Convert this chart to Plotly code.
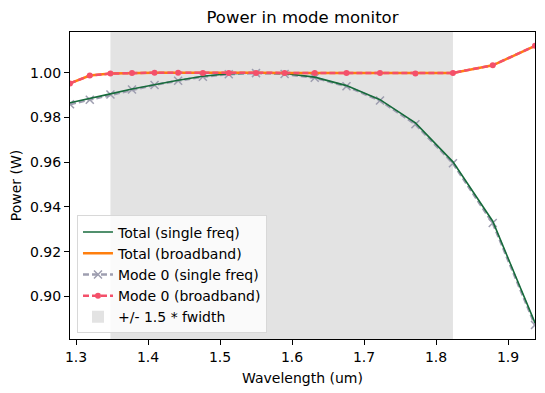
import plotly.graph_objects as go

wavelength = [1.29167, 1.31915, 1.34783, 1.37778, 1.40909, 1.44186, 1.47619, 1.51220, 1.55000,
              1.58974, 1.63158, 1.67568, 1.72222, 1.77143, 1.82353, 1.87879, 1.93750]
total_single = [0.9866, 0.9884, 0.9906, 0.9928, 0.9948, 0.9967, 0.9985, 0.9996, 1.0000,
                0.9997, 0.9981, 0.9943, 0.9880, 0.9776, 0.9602, 0.9336, 0.8881]
total_broad = [0.9953, 0.9988, 0.9997, 1.0000, 1.0001, 1.0001, 1.0000, 1.0000, 1.0000,
               1.0000, 1.0000, 1.0000, 1.0000, 0.9997, 1.0000, 1.0034, 1.0121]
mode0_single = [0.9860, 0.9880, 0.9903, 0.9926, 0.9946, 0.9965, 0.9983, 0.9994, 0.9999,
                0.9995, 0.9978, 0.9940, 0.9876, 0.9770, 0.9596, 0.9328, 0.8872]
mode0_broad = [0.9953, 0.9988, 0.9997, 1.0000, 1.0001, 1.0001, 1.0000, 1.0000, 1.0000,
               1.0000, 1.0000, 1.0000, 1.0000, 0.9997, 1.0000, 1.0034, 1.0121]
band_lo, band_hi = 1.34783, 1.82353
x_range = [1.29167, 1.93750]
y_range = [0.8809, 1.0183]

FONT = "DejaVu Sans"
fig = go.Figure()

fig.add_trace(go.Scatter(x=wavelength, y=mode0_single, mode="lines+markers",
                         name="Mode 0 (single freq)", legendrank=3,
                         line=dict(color="#9e9eb0", width=2.5, dash="6px,3px"),
                         marker=dict(symbol="x-thin", size=8, line=dict(color="#9e9eb0", width=1.5))))
fig.add_trace(go.Scatter(x=wavelength, y=total_single, mode="lines",
                         name="Total (single freq)", legendrank=1,
                         line=dict(color="#176b3c", width=1.6)))
fig.add_trace(go.Scatter(x=wavelength, y=total_broad, mode="lines",
                         name="Total (broadband)", legendrank=2,
                         line=dict(color="#ff7f0e", width=2.5)))
fig.add_trace(go.Scatter(x=wavelength, y=mode0_broad, mode="lines+markers",
                         name="Mode 0 (broadband)", legendrank=4,
                         line=dict(color="#f4506a", width=2.5, dash="6px,3px"),
                         marker=dict(symbol="circle", size=6, color="#f4506a")))

fig.add_vrect(x0=band_lo, x1=band_hi, fillcolor="#e3e3e3", opacity=1, line_width=0,
              layer="below", showlegend=True, name="+/- 1.5 * fwidth", legendrank=5)

axis_common = dict(showline=True, linecolor="black", linewidth=1.1, mirror=True,
                   ticks="outside", ticklen=5, tickwidth=1, tickcolor="black",
                   showgrid=False, zeroline=False, automargin=False,
                   tickfont=dict(family=FONT, size=14, color="black"))
fig.update_xaxes(range=x_range, dtick=0.1, tick0=1.3, tickformat=".1f",
                 title=dict(text="Wavelength (um)", font=dict(family=FONT, size=14, color="black"), standoff=9),
                 **axis_common)
fig.update_yaxes(range=y_range, dtick=0.02, tick0=0.9, tickformat=".2f",
                 title=dict(text="Power (W)", font=dict(family=FONT, size=14, color="black"), standoff=6),
                 **axis_common)

# the page body has an 8px default margin, so the figure is offset by 8px
fig.update_layout(
    width=537, height=385,
    margin=dict(l=62, r=10, t=24, b=54, autoexpand=False),
    paper_bgcolor="white", plot_bgcolor="white",
    font=dict(family=FONT, size=14, color="black"),
    title=dict(text="Power in mode monitor", xref="paper", x=0.5, xanchor="center",
               yref="container", y=0.975, yanchor="middle",
               font=dict(family=FONT, size=16.5, color="black")),
    legend=dict(x=0.015, y=0.018, xanchor="left", yanchor="bottom",
                bgcolor="rgba(255,255,255,0.8)", bordercolor="#d8d8d8", borderwidth=1,
                font=dict(family=FONT, size=14, color="black"), tracegroupgap=0),
)

fig.write_html("out.html")
